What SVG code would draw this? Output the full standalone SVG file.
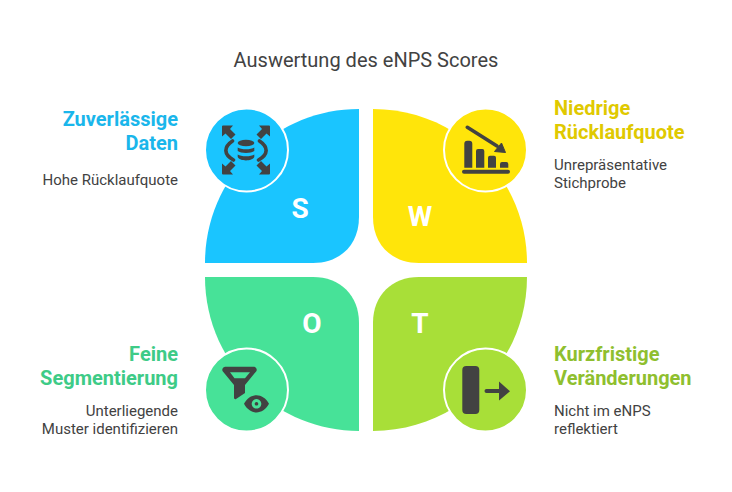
<svg xmlns="http://www.w3.org/2000/svg" width="732" height="492" viewBox="0 0 732 492">
<style>
.t{font-family:Roboto,"Liberation Sans",sans-serif}
.h{font-size:20px;font-weight:700}
.b{font-size:15px;fill:#424242}
.l{font-size:28px;font-weight:700;fill:#fff;text-anchor:middle}
.e{text-anchor:end}
.c{stroke:#fff;stroke-width:2}
.i{fill:#424242}
.s{fill:none;stroke:#424242;stroke-linecap:round;stroke-linejoin:round}
</style>
<rect width="732" height="492" fill="#fff"/>
<text class="t" x="366" y="67" font-size="20" fill="#424242" text-anchor="middle">Auswertung des eNPS Scores</text>
<g id="connectors"/>
<g id="s">
<path d="M359 109V217C359 245 340 263 313 263H205C205 178 274 109 359 109Z" fill="#1ac5ff"/>
<circle class="c" cx="246.500" cy="150" r="41.500" fill="#1ac5ff"/>
<g class="i"><path d="M222 126.500q0-1 1-1h10l-3 3.500 5.500 5.500-4.500 4.500-5.500-5.500-3.500 3zM270 126.500q0-1-1-1h-10l3 3.500-5.500 5.500 4.500 4.500 5.500-5.500 3.500 3zM222 173.500q0 1 1 1h10l-3-3.500 5.500-5.500-4.500-4.500-5.500 5.500-3.500-3zM270 173.500q0 1-1 1h-10l3-3.500-5.500-5.500 4.500-4.500 5.500 5.500 3.500-3z"/>
<ellipse cx="246" cy="143" rx="8.300" ry="3.300"/><path d="M237.700 147.500c3 2.400 13.600 2.400 16.600 0v3.500c-3 2.600-13.600 2.600-16.600 0zM237.700 154.500c3 2.400 13.600 2.400 16.600 0v2.500c-2 4.500-14.600 4.500-16.600 0z"/></g>
<path class="s" stroke-width="3.600" d="M232.500 141c-9 6-9 13.500 1 19M259.500 141c9 6 9 13.500-1 19"/>
<text class="t l" x="300" y="218">S</text>
</g>
<g id="w">
<path d="M373 109V217C373 245 392 263 419 263H527C527 178 458 109 373 109Z" fill="#ffe50a"/>
<circle class="c" cx="485.500" cy="150" r="41.500" fill="#ffe50a"/>
<path class="s" stroke-width="3.600" d="M467.300 127.300L497 146"/>
<path class="i" stroke="#424242" stroke-width="1" stroke-linejoin="round" d="M505.500 152.500L494.500 151.500 501.500 143z"/>
<path class="i" d="M464.300 143.700a3 3 0 0 1 3-3h2a3 3 0 0 1 3 3v24h-8zM476 151a2 2 0 0 1 2-2h4.300a2 2 0 0 1 2 2v16.700h-8.300zM488 157.700a2 2 0 0 1 2-2h4a2 2 0 0 1 2 2v10h-8zM500 164a2 2 0 0 1 2-2h4.300a2 2 0 0 1 2 2v3.700h-8.300z"/>
<rect class="i" x="462" y="169.700" width="48" height="4" rx="2"/>
<text class="t l" x="420" y="226">W</text>
</g>
<g id="o">
<path d="M359 431V323C359 295 340 277 313 277H205C205 362 274 431 359 431Z" fill="#47e298"/>
<circle class="c" cx="246.500" cy="390" r="41.500" fill="#47e298"/>
<path class="i" fill-rule="evenodd" d="M225 366.700h29q3.500.5 2.500 4.300L245 385v8l-9 6q-2 .8-2-1.500V385L222.500 371q-1-3.800 2.500-4.300zM230 372.300l4.500 6h10.500l5-6z"/>
<path class="i" fill-rule="evenodd" d="M244 403.800c6-11.500 19-11.500 25 0-6 11.500-19 11.500-25 0zM256.500 399a4.800 4.800 0 1 0 .01 0zM256.500 402a1.800 1.800 0 1 1-.01 0z"/>
<text class="t l" x="312" y="333">O</text>
</g>
<g id="t">
<path d="M373 431V323C373 295 392 277 419 277H527C527 362 458 431 373 431Z" fill="#a8df38"/>
<circle class="c" cx="485.500" cy="390" r="41.500" fill="#a8df38"/>
<rect class="i" x="462.300" y="366" width="17" height="48" rx="4"/>
<path class="s" stroke-width="4" d="M486.500 391H500"/>
<path class="i" d="M499 381.500l11 9.700-11 9.300z"/>
<text class="t l" x="420" y="333">T</text>
</g>
<g id="label-s">
<text class="t h e" x="178" y="126" fill="#1ab6eb">Zuverlässige</text>
<text class="t h e" x="178" y="150" fill="#1ab6eb">Daten</text>
<text class="t b e" x="178" y="185">Hohe Rücklaufquote</text>
</g>
<g id="label-w">
<text class="t h" x="554" y="115" fill="#e0c900">Niedrige</text>
<text class="t h" x="554" y="139" fill="#e0c900">Rücklaufquote</text>
<text class="t b" x="554" y="170">Unrepräsentative</text>
<text class="t b" x="554" y="188">Stichprobe</text>
</g>
<g id="label-o">
<text class="t h e" x="178" y="361" fill="#3ecb87">Feine</text>
<text class="t h e" x="178" y="385" fill="#3ecb87">Segmentierung</text>
<text class="t b e" x="178" y="416">Unterliegende</text>
<text class="t b e" x="178" y="434">Muster identifizieren</text>
</g>
<g id="label-t">
<text class="t h" x="554" y="361" fill="#8fbf2f">Kurzfristige</text>
<text class="t h" x="554" y="385" fill="#8fbf2f">Veränderungen</text>
<text class="t b" x="554" y="416">Nicht im eNPS</text>
<text class="t b" x="554" y="434">reflektiert</text>
</g>
</svg>
